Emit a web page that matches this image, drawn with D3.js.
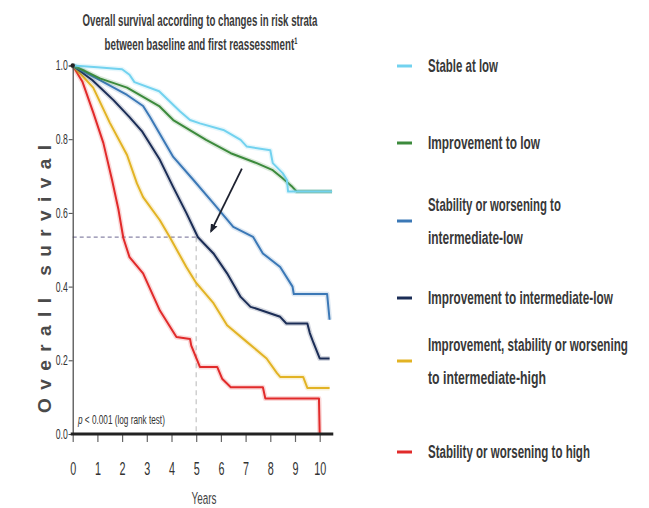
<!DOCTYPE html>
<meta charset="utf-8">
<script src="https://d3js.org/d3.v7.min.js"></script>
<style>
  body { margin: 0; background: #fff; }
  text { font-family: "Liberation Sans", "Arimo", sans-serif; fill: #333; }
</style>
<svg id="chart" width="649" height="508"></svg>
<script>

// tick labels
const yearTicks = [0, 1, 2, 3, 4, 5, 6, 7, 8, 9, 10];
const survTicks = [0.0, 0.2, 0.4, 0.6, 0.8, 1.0];

// group names (legend order)
const groups = [
  "Stable at low",
  "Improvement to low",
  "Stability or worsening to intermediate-low",
  "Improvement to intermediate-low",
  "Improvement, stability or worsening to intermediate-high",
  "Stability or worsening to high"
];
const groupColors = ["#72d2ef", "#3c8a3c", "#3b78b6", "#1b2d56", "#e2b324", "#e12a2a"];

// Kaplan-Meier curves: time (years) / survival
const stableLowT = [0, 1.0, 2.0, 2.3, 2.5, 3.5, 4.35, 4.75, 5.15, 6.1, 6.8, 7.05, 8.0, 8.1, 8.5, 8.67, 8.72, 10.5];
const stableLowS = [1, 0.995, 0.99, 0.975, 0.955, 0.93, 0.875, 0.852, 0.843, 0.825, 0.798, 0.78, 0.77, 0.735, 0.708, 0.69, 0.658, 0.658];

const improvLowT = [0, 0.5, 1.1, 2.2, 3.5, 4.07, 5.4, 6.4, 7.45, 8.1, 8.5, 8.9, 9.07, 10.5];
const improvLowS = [1, 0.985, 0.965, 0.94, 0.89, 0.852, 0.798, 0.762, 0.735, 0.716, 0.694, 0.67, 0.658, 0.658];

const stabIntLowT = [0, 1.1, 2.2, 2.85, 3.13, 4.07, 4.88, 5.7, 6.5, 7.3, 7.7, 8.4, 8.9, 8.95, 10.3, 10.4];
const stabIntLowS = [1, 0.96, 0.92, 0.89, 0.86, 0.752, 0.69, 0.626, 0.562, 0.535, 0.49, 0.453, 0.40, 0.38, 0.38, 0.31];

const improvIntLowT = [0, 0.8, 1.65, 2.3, 2.8, 3.53, 4.07, 4.6, 5.07, 5.7, 6.25, 6.8, 7.2, 7.45, 8.4, 8.65, 9.5, 9.6, 9.75, 10.0, 10.4];
const improvIntLowS = [1, 0.96, 0.906, 0.86, 0.822, 0.744, 0.67, 0.60, 0.534, 0.49, 0.436, 0.372, 0.345, 0.340, 0.318, 0.30, 0.30, 0.274, 0.247, 0.205, 0.205];

const intHighT = [0, 0.83, 1.5, 2.2, 2.6, 2.85, 3.53, 3.95, 4.6, 5.0, 5.7, 6.25, 7.05, 7.85, 8.27, 8.4, 9.33, 9.5, 10.4];
const intHighS = [1, 0.94, 0.845, 0.757, 0.68, 0.643, 0.58, 0.532, 0.453, 0.41, 0.355, 0.295, 0.25, 0.205, 0.165, 0.155, 0.155, 0.125, 0.125];

const highT = [0, 0.4, 0.83, 1.24, 1.6, 1.85, 2.05, 2.3, 2.85, 3.53, 4.2, 4.75, 4.8, 5.15, 5.85, 6.05, 6.4, 7.7, 7.8, 9.97, 10.0];
const highS = [1, 0.955, 0.873, 0.79, 0.687, 0.61, 0.532, 0.48, 0.436, 0.335, 0.263, 0.258, 0.24, 0.182, 0.182, 0.15, 0.127, 0.127, 0.096, 0.096, 0];

// 5-year reference (dashed lines) and the arrow pointing at it
const refYear = 5;
const refSurv = 0.534;
const arrowFrom = [6.85, 0.72];
const arrowTo = [5.6, 0.55];

const svg = d3.select("#chart");

const x = d3.scaleLinear().domain([0, 10]).range([72.7, 319.7]);
const y = d3.scaleLinear().domain([0, 1]).range([434, 65.5]);

// the original uses a condensed face: draw normally, then squeeze horizontally to width w
function squeezed(parent, px, py, w, size, anchor) {
  const t = parent.append("text").attr("x", 0).attr("y", 0)
    .attr("font-size", size).attr("text-anchor", anchor || "start");
  t.fitTo = () => {
    const n = t.node().getComputedTextLength();
    t.attr("transform", `translate(${px},${py}) scale(${w / n},1)`);
    return t;
  };
  return t;
}

// title
squeezed(svg, 200, 26, 235, 17, "middle").attr("font-weight", "bold").style("fill", "#3a3a3a")
  .text("Overall survival according to changes in risk strata").fitTo();
squeezed(svg, 201, 50, 193, 17, "middle").attr("font-weight", "bold").style("fill", "#3a3a3a")
  .text("between baseline and first reassessment\u00b9").fitTo();

// dashed reference lines
svg.append("line")
  .attr("x1", x(0)).attr("x2", x(refYear) + 3)
  .attr("y1", y(refSurv)).attr("y2", y(refSurv))
  .attr("stroke", "#8a86a8").attr("stroke-width", 1.3).attr("stroke-dasharray", "4,3");
svg.append("line")
  .attr("x1", x(refYear)).attr("x2", x(refYear))
  .attr("y1", y(refSurv)).attr("y2", y(0))
  .attr("stroke", "#c8c8c8").attr("stroke-width", 1.3).attr("stroke-dasharray", "5,4");

// curves
const series = [
  [stableLowT, stableLowS],
  [improvLowT, improvLowS],
  [stabIntLowT, stabIntLowS],
  [improvIntLowT, improvIntLowS],
  [intHighT, intHighS],
  [highT, highS]
];
const line = d3.line().x(d => x(d[0])).y(d => y(d[1]));

// draw bottom to top so light blue ends up over green as in the original
const order = [5, 4, 3, 2, 1, 0];
order.forEach(i => {
  const pts = d3.zip(series[i][0], series[i][1]);
  svg.append("path").datum(pts).attr("d", line)
    .attr("fill", "none").attr("stroke", groupColors[i])
    .attr("stroke-width", 5).attr("stroke-opacity", 0.18).attr("stroke-linejoin", "round");
  svg.append("path").datum(pts).attr("d", line)
    .attr("fill", "none").attr("stroke", groupColors[i])
    .attr("stroke-width", 2).attr("stroke-linejoin", "round");
});

// arrow
svg.append("defs").append("marker")
  .attr("id", "head").attr("viewBox", "0 0 10 10").attr("refX", 8).attr("refY", 5)
  .attr("markerWidth", 5).attr("markerHeight", 5).attr("orient", "auto")
  .append("path").attr("d", "M0,1L10,5L0,9z").attr("fill", "#1e2230");
svg.append("line")
  .attr("x1", x(arrowFrom[0])).attr("y1", y(arrowFrom[1]))
  .attr("x2", x(arrowTo[0])).attr("y2", y(arrowTo[1]))
  .attr("stroke", "#1e2230").attr("stroke-width", 1.8).attr("marker-end", "url(#head)");

// y axis
const yAxis = svg.append("g").attr("transform", `translate(${x(0)},0)`)
  .call(d3.axisLeft(y).tickValues(survTicks).tickFormat(d3.format(".1f")).tickSize(4).tickPadding(4));
yAxis.select(".domain").attr("stroke", "#444").attr("stroke-width", 1.2);
yAxis.selectAll(".tick line").attr("stroke", "#444");
yAxis.selectAll(".tick text").attr("font-size", 14).attr("fill", "#666")
  .attr("font-family", "'Liberation Sans', sans-serif")
  .attr("transform", "scale(0.62,1)");
svg.append("circle").attr("cx", x(0)).attr("cy", y(1)).attr("r", 2.2).attr("fill", "#222");

// x axis
const xAxis = svg.append("g").attr("transform", `translate(0,${y(0)})`)
  .call(d3.axisBottom(x).tickValues(yearTicks).tickFormat(d3.format("d")).tickSize(8).tickPadding(20));
xAxis.select(".domain").remove();
xAxis.selectAll(".tick line").attr("stroke", "#666").attr("stroke-width", 1.2);
xAxis.selectAll(".tick text").attr("font-size", 18).attr("fill", "#666")
  .attr("font-family", "'Liberation Sans', sans-serif")
  .attr("transform", "scale(0.6,1)");
svg.append("line")
  .attr("x1", x(0) - 2).attr("x2", x(10.55))
  .attr("y1", y(0)).attr("y2", y(0))
  .attr("stroke", "#222").attr("stroke-width", 3);

// axis titles
squeezed(svg, 204, 504, 25, 17, "middle").style("fill", "#444").text("Years").fitTo();
svg.append("text")
  .attr("transform", `translate(51,${279}) rotate(-90)`)
  .attr("text-anchor", "middle")
  .attr("font-family", "'DejaVu Sans', sans-serif")
  .attr("font-weight", "bold").attr("font-size", 19)
  .attr("textLength", 268).attr("lengthAdjust", "spacing")
  .style("fill", "#4a4a4a")
  .text("Overall survival");

// p value
const pText = squeezed(svg, 78, 424, 87, 13);
pText.append("tspan").attr("font-style", "italic").text("p");
pText.append("tspan").text(" < 0.001 (log rank test)");
pText.fitTo();

// legend (text widths follow the condensed face of the original)
const legendRows = [
  { lines: ["Stable at low"], w: [70], y: 66 },
  { lines: ["Improvement to low"], w: [112], y: 143 },
  { lines: ["Stability or worsening to", "intermediate-low"], w: [133, 95], y: 221 },
  { lines: ["Improvement to intermediate-low"], w: [185], y: 298 },
  { lines: ["Improvement, stability or worsening", "to intermediate-high"], w: [200, 118], y: 361 },
  { lines: ["Stability or worsening to high"], w: [162], y: 452 }
];
const legend = svg.append("g");
legendRows.forEach((r, i) => {
  legend.append("line")
    .attr("x1", 397).attr("x2", 412).attr("y1", r.y).attr("y2", r.y)
    .attr("stroke", groupColors[i]).attr("stroke-width", 3);
  const n = r.lines.length;
  r.lines.forEach((t, j) => {
    squeezed(legend, 428, r.y + 6 + (j - (n - 1) / 2) * 33, r.w[j], 18)
      .attr("font-weight", "bold").style("fill", "#383838")
      .text(t).fitTo();
  });
});

</script>
